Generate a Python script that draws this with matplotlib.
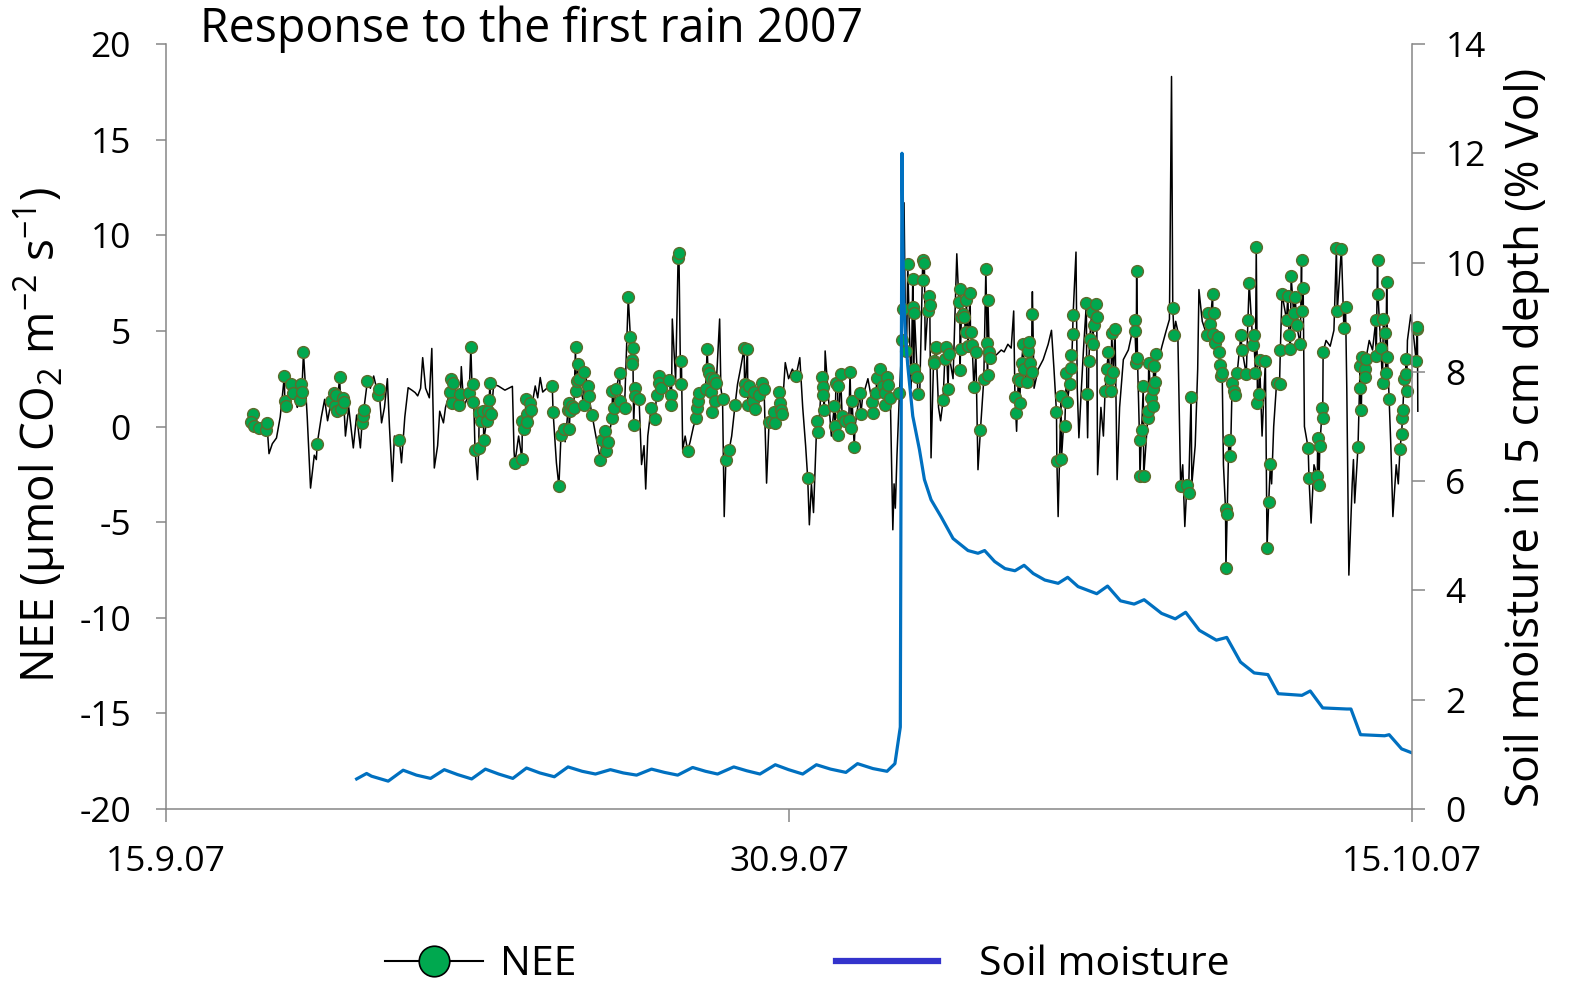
import numpy as np
import matplotlib
matplotlib.use('Agg')
from matplotlib import pyplot as plt
from matplotlib.lines import Line2D

plt.rcParams['font.family'] = ['Open Sans', 'DejaVu Sans']
plt.rcParams['mathtext.fontset'] = 'custom'
plt.rcParams['mathtext.rm'] = 'Open Sans'
plt.rcParams['mathtext.default'] = 'regular'
plt.rcParams['axes.unicode_minus'] = False

# days since 15.9.07
tick_days = [0, 15, 30]
tick_labels = ['15.9.07', '30.9.07', '15.10.07']

# measured NEE (green dots)
obs_day = [
    2.09, 2.05, 2.13, 2.25, 2.40, 2.43, 2.85, 2.86, 2.89, 3.02, 3.06, 3.23, 3.25, 3.27, 3.31, 3.64,
    3.98, 4.04, 4.06, 4.10, 4.11, 4.18, 4.21, 4.27, 4.28, 4.72, 4.75, 4.76, 4.85, 5.11, 5.13, 5.62,
    6.84, 6.86, 6.88, 6.91, 7.06, 7.09, 7.30, 7.34, 7.38, 7.40, 7.44, 7.53, 7.54, 7.59, 7.64, 7.65,
    7.72, 7.75, 7.78, 7.80, 7.83,
    8.40, 8.57, 8.58, 8.63, 8.67, 8.69, 8.70, 8.77, 8.79, 9.30, 9.32, 9.46, 9.51, 9.58, 9.68, 9.70,
    9.71, 9.73, 9.78, 9.82, 9.86, 9.87, 9.90, 9.91, 9.94,
    10.06, 10.07, 10.16, 10.18, 10.26, 10.46, 10.50, 10.58, 10.59, 10.64, 10.74, 10.75, 10.78, 10.84,
    10.92, 10.94,
    11.04, 11.13, 11.18, 11.21, 11.22, 11.24, 11.26, 11.29, 11.30, 11.39, 11.68, 11.77, 11.81, 11.87,
    11.88, 11.93,
    12.12, 12.15, 12.17, 12.33, 12.35, 12.39, 12.41, 12.56, 12.77, 12.79, 12.81, 12.83, 12.99,
    13.03, 13.05, 13.07, 13.11, 13.12, 13.14, 13.20, 13.23, 13.25, 13.40, 13.48, 13.56, 13.70, 13.92,
    13.93, 13.94,
    14.00, 14.01, 14.04, 14.14, 14.16, 14.18, 14.28, 14.34, 14.40, 14.52, 14.59, 14.64, 14.67, 14.76,
    14.78, 14.80, 14.83,
    15.17, 15.45, 15.67, 15.71, 15.79, 15.81, 15.83, 15.85,
    16.09, 16.11, 16.13, 16.17, 16.19, 16.24, 16.28, 16.36, 16.44, 16.47, 16.50, 16.52, 16.57, 16.70,
    16.73,
    17.00, 17.02, 17.10, 17.11, 17.19, 17.27, 17.30, 17.32, 17.35, 17.38, 17.44, 17.66, 17.72, 17.74,
    17.81, 17.86, 17.98, 17.99,
    18.00, 18.02, 18.09, 18.10, 18.22, 18.23, 18.26, 18.34, 18.38, 18.39, 18.48, 18.50, 18.53, 18.54,
    18.71, 18.75, 18.79, 18.83, 18.85,
    19.09, 19.11, 19.12, 19.13, 19.15, 19.19, 19.22, 19.25, 19.27, 19.31, 19.36, 19.37, 19.41, 19.45,
    19.50, 19.61, 19.69, 19.74, 19.77, 19.78, 19.79, 19.82, 19.85,
    20.44, 20.46, 20.52, 20.56, 20.57, 20.60, 20.64, 20.65, 20.73, 20.75, 20.77, 20.80, 20.84, 20.85,
    21.44, 21.45, 21.55, 21.56, 21.64, 21.68, 21.70, 21.76, 21.79, 21.80, 21.83, 21.84,
    22.16, 22.17, 22.22, 22.24, 22.29, 22.31, 22.34, 22.39, 22.41, 22.61, 22.65, 22.69, 22.73, 22.75,
    22.77, 22.81, 22.85,
    23.32, 23.33, 23.36, 23.37, 23.39, 23.44, 23.45, 23.49, 23.53, 23.54, 23.64, 23.65, 23.66, 23.72,
    23.76, 23.77, 23.78, 23.82, 23.84,
    24.24, 24.27, 24.43, 24.58, 24.62, 24.68,
    25.06, 25.10, 25.14, 25.20, 25.21, 25.24, 25.26, 25.34, 25.35, 25.37, 25.40, 25.43, 25.51, 25.52,
    25.55, 25.59, 25.63, 25.67, 25.71, 25.75, 25.79, 25.88, 25.91,
    26.01, 26.05, 26.08, 26.17, 26.19, 26.23, 26.25, 26.28, 26.31, 26.33, 26.47, 26.51, 26.55, 26.59,
    26.74, 26.81, 26.83, 26.87, 26.98,
    27.01, 27.04, 27.07, 27.09, 27.15, 27.19, 27.22, 27.31, 27.34, 27.35, 27.38, 27.50, 27.52, 27.72,
    27.73, 27.76, 27.78, 27.84, 27.85, 27.86,
    28.18, 28.20, 28.30, 28.36, 28.40, 28.70, 28.75, 28.76, 28.78, 28.80, 28.86, 28.87, 28.89,
    29.13, 29.14, 29.17, 29.18, 29.25, 29.29, 29.31, 29.35, 29.37, 29.39, 29.41, 29.45, 29.71, 29.75,
    29.77, 29.78, 29.81, 29.85, 29.86, 29.87,
    30.10, 30.12, 30.13]
obs_nee = [
    0.67, 0.23, 0.02, -0.10, -0.20, 0.19, 2.64, 1.33, 1.07, 2.20, 1.77, 1.36, 2.20, 1.80, 3.87, -0.91,
    1.33, 1.77, 1.07, 1.64, 0.80, 2.60, 0.89, 1.50, 1.28, 0.16, 0.54, 0.84, 2.38, 1.63, 1.94, -0.72,
    1.82, 2.47, 1.24, 2.29, 1.10, 1.68, 1.77, 4.15, 1.26, 2.20, -1.21, -1.15, 0.72, 0.31, 0.80, -0.72,
    0.28, 0.80, 1.38, 2.26, 0.63,
    -1.91, -1.70, 0.31, -0.12, 1.42, 0.63, 0.23, 1.21, 0.84, 2.10, 0.75, -3.13, -0.46, -0.12, 0.84, 1.24,
    -0.12, 0.80, 1.07, 0.98, 4.18, 1.85, 2.38, 3.25, 2.47,
    1.15, 2.87, 2.12, 1.59, 0.58, -1.73, -0.68, -0.25, -1.30, -0.80, 0.45, 1.85, 0.98, 1.94,
    2.82, 1.33,
    0.98, 6.76, 4.70, 3.48, 3.25, 4.08, 0.07, 2.03, 1.59, 1.45, 0.98, 0.40, 1.63, 2.64,
    2.29, 2.03,
    2.43, 1.63, 1.12, 8.82, 9.08, 2.24, 3.43, -1.28, 0.45, 0.98, 1.33, 1.73, 1.94,
    4.04, 2.99, 2.78, 2.56, 1.80, 0.75, 2.47, 1.33, 2.26, 1.42, -1.77, -1.21, 1.10, 4.08,
    2.20, 1.85,
    4.04, 1.15, 2.12, 1.33, 1.80, 0.89, 1.64, 2.29, 1.98, 0.23, 0.28, 0.75, 0.19, 1.80,
    1.24, 0.84, 0.63,
    2.64, -2.69, 0.28, -0.30, 2.59, 2.08, 1.64, 0.84,
    1.07, 0.05, 2.26, 2.10, -0.42, 2.76, 0.54, 0.31, 0.36, 2.85, -0.07, 1.33, -1.07, 1.73,
    0.63,
    1.29, 0.68, 1.77, 2.56, 3.03, 2.10, 1.75, 1.10, 2.61, 2.15, 1.50, 1.77, 4.50, 6.14,
    3.95, 8.50, 7.72, 6.23,
    3.03, 5.93, 2.61, 1.68, 8.68, 7.68, 8.54, 6.05, 6.81, 6.37, 3.40, 3.34, 4.13, 4.18,
    1.38, 3.52, 4.18, 1.94, 3.78,
    6.49, 7.19, 2.96, 4.04, 5.71, 5.88, 5.74, 4.92, 6.59, 4.20, 6.96, 4.92, 4.27, 2.08,
    3.87, -0.16, 2.47, 8.24, 4.36, 2.68, 6.59, 3.90, 3.60,
    1.56, 0.68, 2.47, 1.21, 2.40, 3.34, 4.30, 2.99, 2.33, 3.95, 4.40, 3.31, 2.85, 5.88,
    0.75, -1.78, 1.59, -1.70, 0.05, 2.82, 1.28, 2.24, 3.74, 3.08, 4.85, 5.84,
    6.44, 1.71, 3.43, 4.57, 5.97, 4.30, 5.30, 6.40, 5.71, 1.85, 2.99, 3.87, 2.50, 1.85,
    4.90, 2.85, 5.09,
    5.57, 4.99, 3.30, 8.15, 3.60, -0.68, -2.57, -0.16, 2.12, -2.61, 0.45, 0.80, 3.30, 1.50,
    1.07, 1.94, 3.16, 2.33, 3.78,
    6.18, 4.80, -3.10, -3.05, -3.48, 1.56,
    4.78, 5.93, 5.35, 6.93, 4.83, 5.93, 4.36, 4.67, 3.87, 3.20, 2.64, 2.82, -4.30, -7.42,
    -4.57, -0.68, -1.56, 2.29, 1.85, 1.63, 2.78, 4.76, 3.99,
    2.73, 5.58, 7.51, 4.25, 4.76, 2.82, 9.38, 1.24, 1.68, 3.48, 3.43, -6.34, -3.95, -1.96,
    2.29, 2.20, 4.00, 6.93, 5.58,
    6.81, 4.78, 4.04, 7.86, 5.93, 6.76, 5.30, 4.30, 8.68, 6.02, 7.23, -1.12, -2.69, -2.61,
    -0.59, -3.04, -1.03, 0.98, 0.45, 3.90,
    9.33, 6.02, 9.30, 5.13, 6.23, -1.07, 3.17, 2.03, 0.84, 3.66, 2.99, 2.61, 3.52,
    5.58, 3.69, 8.73, 6.93, 4.13, 2.29, 5.62, 4.88, 2.82, 7.54, 3.66, 1.42, -1.17, -0.38,
    0.45, 0.86, 2.47, 2.73, 3.55, 1.85,
    3.43, 5.10, 5.18]

# gap-filled NEE (line only)
gap_day = [
    1.98, 2.48, 2.56, 2.66, 2.75, 3.16, 3.40, 3.48, 3.57, 3.62, 3.74, 3.82, 3.89, 4.32, 4.40, 4.51,
    4.59, 4.68, 4.92, 5.00, 5.07, 5.19, 5.26, 5.33, 5.38, 5.45, 5.50, 5.58, 5.67, 5.75, 5.83, 5.92,
    6.00, 6.06, 6.13, 6.18, 6.25, 6.34, 6.40, 6.46, 6.54, 6.59, 6.68, 6.73, 7.11, 7.17, 7.50, 7.89,
    8.00, 8.16, 8.34, 8.38, 8.49, 8.89, 8.95, 9.01, 9.07, 9.17, 9.40, 9.61, 10.35, 11.45, 11.51,
    11.55, 11.60, 12.19, 12.27, 12.44, 12.50, 12.62, 12.70, 13.33, 13.36, 13.44, 13.62, 13.76, 13.83,
    14.46, 14.91, 14.99, 15.08, 15.26, 15.33, 15.40, 15.49, 15.54, 15.59, 15.87, 15.95, 16.02, 16.59,
    16.77, 16.90, 17.50, 17.53, 17.56, 17.60, 17.77, 17.83, 17.90, 17.94, 18.15, 18.28, 18.42, 18.60,
    18.65, 18.95, 19.04, 19.55, 19.91, 19.99, 20.11, 20.18, 20.27, 20.35, 20.41, 20.48, 20.86, 20.90,
    21.00, 21.12, 21.24, 21.32, 21.38, 21.48, 21.60, 21.91, 21.94, 21.98, 22.04, 22.09, 22.19, 22.43,
    22.51, 22.57, 22.90, 22.96, 23.05, 23.17, 23.28, 23.90, 23.98, 24.08, 24.16, 24.21, 24.31, 24.36,
    24.48, 24.53, 24.70, 24.78, 24.84, 24.87, 24.95, 25.46, 26.39, 26.62, 26.67, 27.41, 27.57, 27.64,
    27.93, 28.03, 28.12, 28.43, 28.48, 28.56, 28.59, 28.62, 28.97, 29.05, 29.49, 29.54, 29.62, 29.67,
    29.89, 29.97, 30.05, 30.14]
gap_nee = [
    0.6, -1.42, -0.9, -0.6, 0.5, 1.0, 0.5, -3.22, -1.5, -1.73, 0.5, 1.42, 0.3, -0.5, 1.0, -1.12,
    0.6, -1.12, 2.0, 2.64, 2.0, 0.19, 1.0, 2.5, 0.0, -2.87, -0.5, -1.0, -1.9, 0.5, 2.03, 1.9,
    1.77, 1.6, 2.0, 3.6, 2.0, 1.5, 4.08, -2.17, -1.0, 0.8, 0.19, 1.0, 3.13, 1.0, -2.78, 2.2,
    2.12, 1.9, 2.1, -1.3, -0.5, 2.12, 1.5, 2.56, 1.8, 2.0, -1.9, -0.8, -0.5, -1.99, -1.0,
    -3.27, -0.5, 5.62, 2.4, -1.21, -0.5, -0.8, 0.0, 5.62, 2.0, -4.71, -0.5, 2.2, 3.0,
    -2.96, 3.34, 2.5, 3.0, 3.60, 1.0, -1.0, -5.14, -3.0, -4.5, 3.95, 1.5, -0.5, 0.0,
    1.5, 2.5, -5.4, -3.0, -4.27, -1.5, 11.7, 4.0, 5.0, 2.0, 2.0, 4.0, -1.64, 1.0,
    0.3, 2.5, 9.03, -2.26, 3.7, 3.74, 4.0, 3.9, 4.3, 4.1, 6.04, -0.25, 7.05, 2.0,
    3.0, 3.5, 4.3, 5.03, 3.0, -4.71, -0.3, 9.12, 2.0, -0.59, 2.0, 4.0, -0.59, -2.52,
    1.0, -0.5, -2.78, 1.0, 3.5, 4.0, 5.09, 3.5, 4.2, 5.0, 5.6, 18.3, 5.5, 5.0,
    -2.0, -5.23, -3.0, -1.0, 3.0, 7.16, 5.5, -2.0, -0.5, -3.0, 0.0, 0.0, -5.05, -2.0,
    4.5, 4.2, 5.03, 2.0, -7.77, -3.0, -1.73, -4.0, 4.5, 4.0, -1.0, -4.71, -2.0, -3.0,
    4.5, 5.84, 4.5, 0.8]

# soil moisture in 5 cm depth (% Vol)
soil_day = [
    4.59, 4.83, 4.95, 5.35, 5.71, 6.03, 6.37, 6.70, 7.02, 7.36, 7.69, 8.01, 8.35, 8.68, 9.00, 9.35,
    9.68, 10.02, 10.34, 10.70, 11.01, 11.33, 11.69, 12.00, 12.32, 12.68, 12.99, 13.28, 13.67, 13.98,
    14.30, 14.67, 14.99, 15.33, 15.66, 16.00, 16.37, 16.65, 17.02, 17.36, 17.55, 17.68, 17.72, 17.74,
    17.76, 17.80, 17.86, 17.98, 18.14, 18.26, 18.42, 18.66, 18.95, 19.31, 19.55, 19.71, 19.95, 20.20,
    20.44, 20.66, 20.88, 21.16, 21.48, 21.71, 21.96, 22.41, 22.67, 22.98, 23.31, 23.55, 23.97, 24.30,
    24.55, 24.88, 25.29, 25.54, 25.87, 26.20, 26.53, 26.78, 27.35, 27.55, 27.85, 28.43, 28.53, 28.76,
    29.34, 29.45, 29.75, 29.99]
soil_vwc = [
    0.55, 0.65, 0.60, 0.51, 0.71, 0.62, 0.56, 0.72, 0.63, 0.55, 0.73, 0.64, 0.56, 0.75, 0.66, 0.59,
    0.77, 0.69, 0.64, 0.72, 0.66, 0.62, 0.73, 0.67, 0.62, 0.76, 0.69, 0.64, 0.77, 0.70,
    0.64, 0.81, 0.72, 0.64, 0.81, 0.73, 0.67, 0.83, 0.74, 0.69, 0.83, 1.5, 12.0, 10.5,
    9.4, 8.7, 8.11, 7.19, 6.58, 6.03, 5.66, 5.35, 4.95, 4.73, 4.68, 4.73, 4.53, 4.40,
    4.36, 4.46, 4.31, 4.19, 4.13, 4.24, 4.07, 3.94, 4.08, 3.81, 3.75, 3.83, 3.58, 3.48,
    3.60, 3.27, 3.09, 3.14, 2.69, 2.49, 2.46, 2.11, 2.08, 2.16, 1.85, 1.83, 1.83, 1.36,
    1.34, 1.36, 1.10, 1.03]

# the NEE line runs through measured and gap-filled values in time order
line_day = np.array(obs_day + gap_day)
line_nee = np.array(obs_nee + gap_nee)
order = np.argsort(line_day, kind='stable')
line_day, line_nee = line_day[order], line_nee[order]

W, H = 1573, 984
axcol = '#868686'
green = '#00A84F'

fig = plt.figure(figsize=(W / 100, H / 100), dpi=100)
ax = fig.add_axes([166 / W, 1 - 809 / H, (1412 - 166) / W, (809 - 44) / H])
ax2 = ax.twinx()

ax.plot(line_day, line_nee, color='black', lw=1.1, clip_on=False, zorder=2)
ax.plot(obs_day, obs_nee, ls='none', marker='o', ms=8.5, mfc=green, mec='#5E6B2C',
        mew=1.0, clip_on=False, zorder=3)
ax2.plot(soil_day, soil_vwc, color='#0070C0', lw=2.3)

ax.set_xlim(0, 30)
ax.set_ylim(-20, 20)
ax2.set_ylim(0, 14)
ax.set_yticks(range(-20, 21, 5))
ax2.set_yticks(range(0, 15, 2))
ax.set_xticks(tick_days)
ax.set_xticklabels(tick_labels)

for a in (ax, ax2):
    a.spines['top'].set_visible(False)
    for s in a.spines.values():
        s.set_color(axcol)
        s.set_linewidth(1.1)
ax.spines['right'].set_visible(False)
ax2.spines['left'].set_visible(False)
ax2.spines['bottom'].set_visible(False)

ax.tick_params(axis='y', direction='out', length=7.2, width=1.1, color=axcol, labelsize=25.5, pad=18)
ax.tick_params(axis='x', direction='out', length=9, width=1.1, color=axcol, labelsize=25.5, pad=17)
ax2.tick_params(axis='y', direction='out', length=9, width=1.1, color=axcol, labelsize=25.5, pad=15)

fig.text(200 / W, 1 - 29 / H, 'Response to the first rain 2007', fontsize=33.5, va='center', ha='left')
fig.text(40 / W, 1 - 435 / H, 'NEE (µmol CO$_2$ m$^{-2}$ s$^{-1}$)', fontsize=33,
         rotation=90, va='center', ha='center')
fig.text(1527 / W, 1 - 437 / H, 'Soil moisture in 5 cm depth (% Vol)', fontsize=33,
         rotation=90, va='center', ha='center')

h1 = Line2D([], [], color='black', lw=1.5, marker='o', ms=22, mfc=green, mec='black', mew=1.2)
h2 = Line2D([], [], color='#3333CC', lw=4.5)
leg1 = fig.legend([h1], ['NEE'], loc='center left', bbox_to_anchor=(385 / W, 1 - 965 / H),
                  frameon=False, fontsize=29.5, handlelength=2.4, handletextpad=0.4,
                  borderpad=0, borderaxespad=0)
leg2 = fig.legend([h2], ['Soil moisture'], loc='center left', bbox_to_anchor=(836 / W, 1 - 965 / H),
                  frameon=False, fontsize=29.5, handlelength=2.5, handletextpad=1.0,
                  borderpad=0, borderaxespad=0)

fig.savefig('out.png', dpi=100)
